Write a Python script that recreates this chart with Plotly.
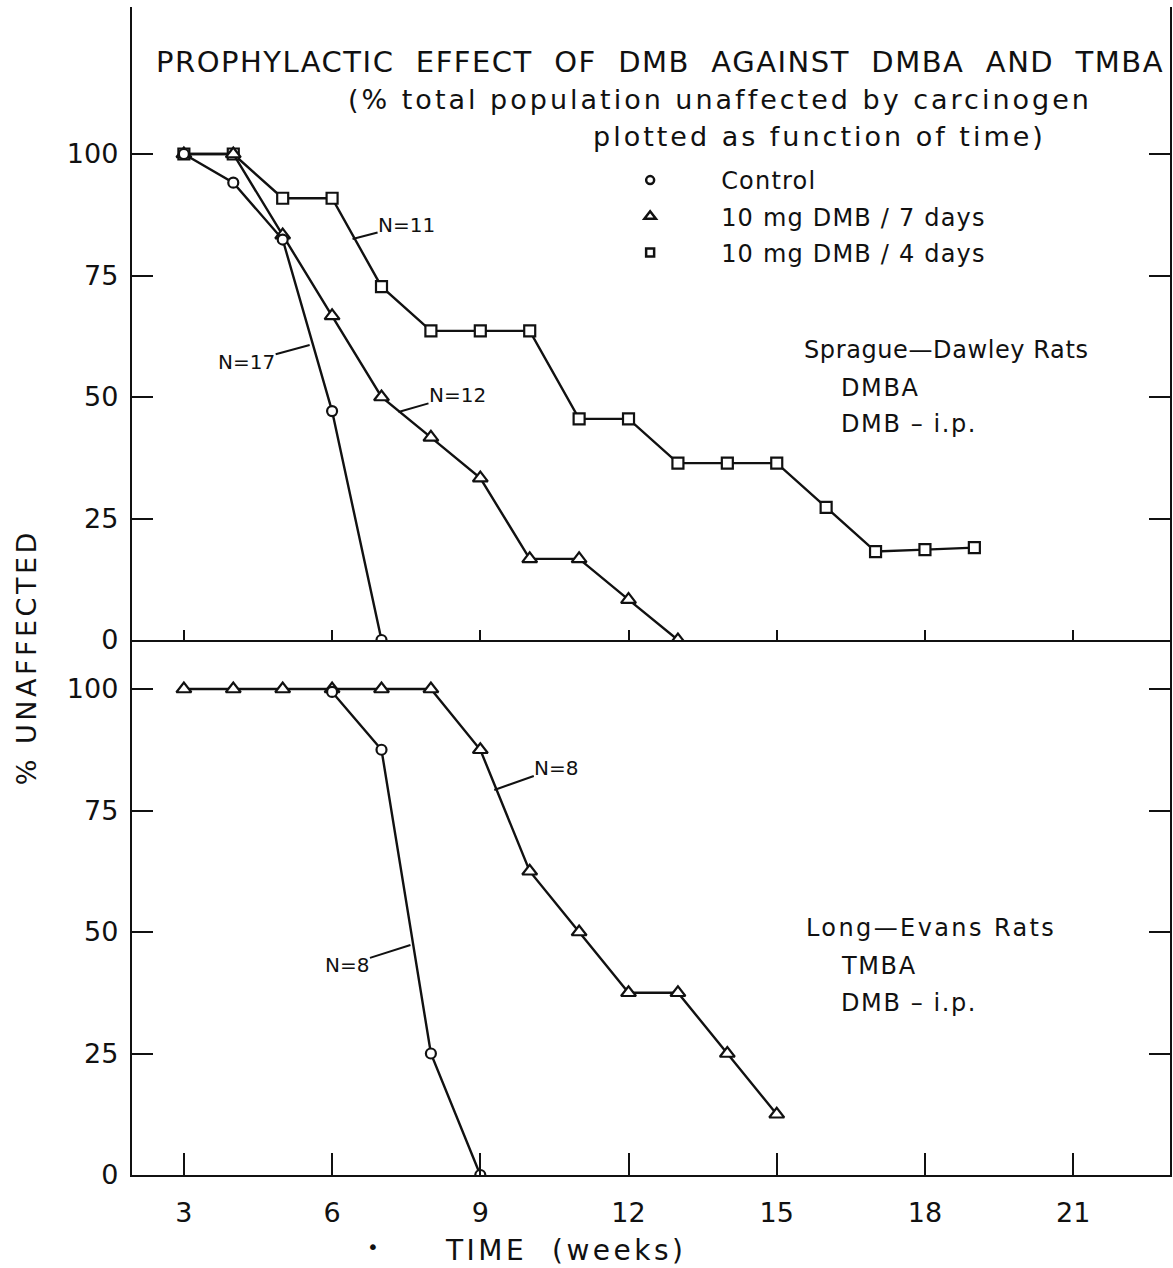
import plotly.graph_objects as go

# ---------------- data ----------------
sd_weeks_control = [3, 4, 5, 6, 7]
sd_control = [100, 94.1, 82.4, 47.1, 0]

sd_weeks_7d = [3, 4, 5, 6, 7, 8, 9, 10, 11, 12, 13]
sd_7d = [100, 100, 83.3, 66.7, 50, 41.7, 33.3, 16.7, 16.7, 8.3, 0]

sd_weeks_4d = [3, 4, 5, 6, 7, 8, 9, 10, 11, 12, 13, 14, 15, 16, 17, 18, 19]
sd_4d = [100, 100, 90.9, 90.9, 72.7, 63.6, 63.6, 63.6, 45.5, 45.5, 36.4, 36.4, 36.4, 27.3, 18.2, 18.6, 19.0]

le_weeks_control = [6, 7, 8, 9]
le_control = [99.4, 87.5, 25, 0]

le_weeks_7d = [3, 4, 5, 6, 7, 8, 9, 10, 11, 12, 13, 14, 15]
le_7d = [100, 100, 100, 100, 100, 100, 87.5, 62.5, 50, 37.5, 37.5, 25, 12.5]

x_ticks = [3, 6, 9, 12, 15, 18, 21]
y_ticks = [0, 25, 50, 75, 100]
legend_names = ["Control", "10 mg DMB / 7 days", "10 mg DMB / 4 days"]

# ---------------- layout geometry ----------------
W, H = 1173, 1268
L, R, T, B = 132, 1, 7, 93
PW = W - L - R
PH = H - T - B
MID = 640  # pixel row of the panel divider


def px(xp):
    return (xp - L) / PW


def py(yp):
    return (H - B - yp) / PH


def spaced(s, ls):
    return '<span style="letter-spacing:%.1fpx">%s</span>' % (ls, s)


split = py(MID)
FONT = "DejaVu Sans"
BLACK = "#111"
LW = 2.4

fig = go.Figure()


def add_series(x, y, symbol, size, xa, ya):
    fig.add_trace(go.Scatter(
        x=x, y=y, mode="lines+markers", xaxis=xa, yaxis=ya,
        line=dict(color=BLACK, width=LW),
        marker=dict(symbol=symbol, size=size, color="white",
                    line=dict(color=BLACK, width=2.2)),
        showlegend=False, hoverinfo="x+y"))


# top panel (Sprague-Dawley)
add_series(sd_weeks_4d, sd_4d, "square", 11, "x2", "y")
add_series(sd_weeks_7d, sd_7d, "triangle-up", 13, "x2", "y")
add_series(sd_weeks_control, sd_control, "circle", 10, "x2", "y")
# bottom panel (Long-Evans)
add_series(le_weeks_7d, le_7d, "triangle-up", 13, "x", "y2")
add_series(le_weeks_control, le_control, "circle", 10, "x", "y2")

# legend-only entries
for name, sym, sz in zip(legend_names, ["circle-open", "triangle-up-open", "square-open"], [8, 10, 8]):
    fig.add_trace(go.Scatter(
        x=[None], y=[None], mode="markers", name=spaced(name, 1.2), xaxis="x2", yaxis="y",
        legendgroup=name,
        marker=dict(symbol=sym, size=sz, color=BLACK, line=dict(color=BLACK, width=2.5)),
    ))

XR = [1.95, 22.96]
axis_common = dict(showgrid=False, zeroline=False, linecolor=BLACK, linewidth=LW,
                   tickcolor=BLACK, tickwidth=LW, range=XR, tickvals=x_ticks)

fig.update_layout(
    width=W, height=H,
    margin=dict(l=L, r=R, t=T, b=B),
    paper_bgcolor="white", plot_bgcolor="white",
    font=dict(family=FONT, color=BLACK),
    xaxis=dict(axis_common, anchor="y2", side="bottom", ticks="inside", ticklen=22,
               showline=True, ticktext=[str(v) for v in x_ticks],
               tickfont=dict(size=27, family=FONT), ticklabelstandoff=12),
    xaxis2=dict(axis_common, anchor="y", side="bottom", ticks="inside", ticklen=10,
                showline=True, showticklabels=False),
    xaxis3=dict(axis_common, anchor="y", side="top", overlaying="x2", ticks="inside",
                ticklen=19, showline=True, showticklabels=False),
    xaxis4=dict(axis_common, anchor="y2", side="top", overlaying="x", ticks="inside",
                ticklen=11, showline=False, showticklabels=False),
    yaxis=dict(domain=[split, 1], range=[0, (MID - T) / 4.86], tickvals=y_ticks,
               ticks="inside", ticklen=21, mirror="ticks", showline=True,
               linecolor=BLACK, linewidth=LW, tickcolor=BLACK, tickwidth=LW,
               showgrid=False, zeroline=False, tickfont=dict(size=27, family=FONT),
               ticklabelstandoff=6),
    yaxis2=dict(domain=[0, split], range=[0, (H - B - MID) / 4.86], tickvals=y_ticks,
                ticks="inside", ticklen=21, mirror="ticks", showline=True,
                linecolor=BLACK, linewidth=LW, tickcolor=BLACK, tickwidth=LW,
                showgrid=False, zeroline=False, tickfont=dict(size=27, family=FONT),
                ticklabelstandoff=6),
    legend=dict(x=px(580), y=py(158), xanchor="left", yanchor="top",
                font=dict(size=24, family=FONT), itemwidth=132,
                bgcolor="rgba(0,0,0,0)", tracegroupgap=2, traceorder="grouped"),
    showlegend=True,
)

ann = []


def text(s, x, y, size=24, anchor="left", ls=1.0, **kw):
    ann.append(dict(text=spaced(s, ls), x=px(x), y=py(y), xref="paper", yref="paper",
                    xanchor=anchor, yanchor="middle", showarrow=False,
                    font=dict(size=size, family=FONT, color=BLACK), **kw))


text("PROPHYLACTIC  EFFECT  OF  DMB  AGAINST  DMBA  AND  TMBA", 661, 62, size=29, anchor="center", ls=1.5)
text("(% total population unaffected by carcinogen", 721, 100, size=27, anchor="center", ls=3.0)
text("plotted as function of time)", 821, 137, size=27, anchor="center", ls=3.0)

text("Sprague—Dawley Rats", 803, 350, ls=0.6)
text("DMBA", 840, 388, ls=1.6)
text("DMB – i.p.", 840, 424, ls=1.6)
text("Long—Evans Rats", 805, 928, ls=2.4)
text("TMBA", 840, 966, ls=1.6)
text("DMB – i.p.", 840, 1003, ls=1.6)

text("TIME  (weeks)", 567, 1250, size=28, anchor="center", ls=3.5)
text("•", 373, 1247, size=20, anchor="center", ls=0)
ann.append(dict(text=spaced("% UNAFFECTED", 3.5), x=px(27), y=py(657), xref="paper", yref="paper",
                xanchor="center", yanchor="middle", showarrow=False, textangle=-90,
                font=dict(size=27, family=FONT, color=BLACK)))


def label(s, tx, ty, hx, hy):
    ann.append(dict(text=s, x=px(hx), y=py(hy), xref="paper", yref="paper",
                    ax=tx - hx, ay=ty - hy, axref="pixel", ayref="pixel",
                    showarrow=True, arrowhead=0, arrowwidth=2, arrowcolor=BLACK,
                    standoff=0, startstandoff=0, borderpad=0,
                    font=dict(size=20, family=FONT, color=BLACK)))


label("N=11", 407, 225, 353, 239)
label("N=17", 247, 362, 310, 345)
label("N=12", 458, 395, 399, 412)
label("N=8", 557, 768, 495, 790)
label("N=8", 348, 965, 411, 945)

fig.update_layout(annotations=ann)
fig.write_html("out.html")
